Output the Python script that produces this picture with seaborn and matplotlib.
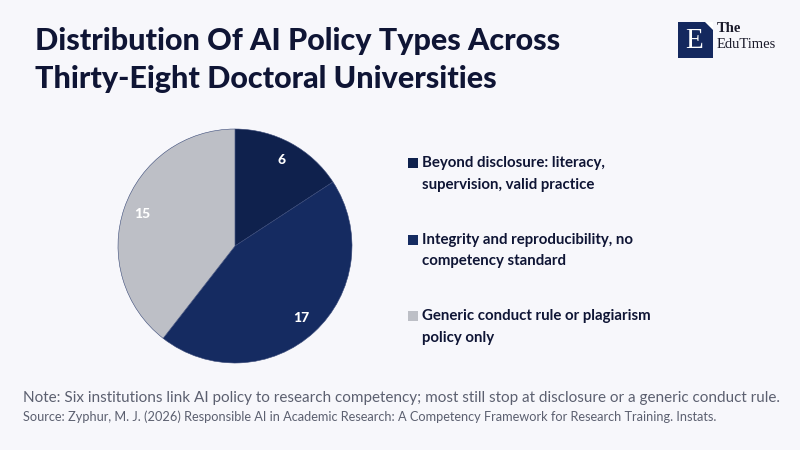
import matplotlib
matplotlib.use('Agg')
import matplotlib.pyplot as plt
import seaborn as sns
from matplotlib.patches import Rectangle, Polygon

# Donnees du graphique
categories = [
    "Beyond disclosure: literacy,\nsupervision, valid practice",
    "Integrity and reproducibility, no\ncompetency standard",
    "Generic conduct rule or plagiarism\npolicy only",
]
counts = [6, 17, 15]
colors = ["#0f214d", "#152b61", "#bdbfc6"]

title = "Distribution Of AI Policy Types Across\nThirty-Eight Doctoral Universities"
note = "Note: Six institutions link AI policy to research competency; most still stop at disclosure or a generic conduct rule."
source = "Source: Zyphur, M. J. (2026) Responsible AI in Academic Research: A Competency Framework for Research Training. Instats."

bg = "#f7f7fb"
navy = "#0f1535"

sns.set_theme(style="white")
plt.rcParams['font.family'] = ['Lato', 'DejaVu Sans']

fig = plt.figure(figsize=(8, 4.5), dpi=100, facecolor=bg)

# Titre
for line, yb in zip(title.split("\n"), [50, 88]):
    fig.text(35 / 800, 1 - yb / 450, line, ha="left", va="baseline",
             fontsize=22, fontweight=900, color=navy)

# Camembert
ax = fig.add_axes([118 / 800, 87 / 450, 234 / 800, 234 / 450])
ax.set_facecolor(bg)
wedges, texts = ax.pie(
    counts, colors=colors, startangle=90, counterclock=False,
    labels=[str(c) for c in counts], labeldistance=0.84,
    wedgeprops=dict(edgecolor="#3a4a78", linewidth=0.4),
    textprops=dict(color="white", fontsize=10, fontweight=900),
)
for t in texts:
    t.set_ha("center")
    t.set_va("center")
ax.set_xlim(-1, 1)
ax.set_ylim(-1, 1)
ax.set_aspect("equal")
ax.axis("off")

# Legende (carre aligne sur la premiere ligne)
for i, (lab, col) in enumerate(zip(categories, colors)):
    y_top = 163 + i * 76.5
    fig.patches.append(Rectangle((408 / 800, 1 - (y_top + 5) / 450), 10 / 800, 10 / 450,
                                 transform=fig.transFigure, facecolor=col,
                                 edgecolor="none"))
    first, second = lab.split("\n")
    fig.text(422 / 800, 1 - y_top / 450, first, ha="left", va="center",
             fontsize=10.8, fontweight="bold", color=navy)
    fig.text(422 / 800, 1 - (y_top + 22) / 450, second, ha="left",
             va="center", fontsize=10.8, fontweight="bold", color=navy)

# Notes de bas de page
fig.text(23 / 800, 1 - 398 / 450, note, ha="left", va="center",
         fontsize=11, color="#5c6070")
fig.text(23 / 800, 1 - 417 / 450, source, ha="left", va="center",
         fontsize=9.15, color="#5c6070")

# Logo
serif = ["Liberation Serif", "DejaVu Serif"]
fig.patches.append(Rectangle((678 / 800, 1 - 58 / 450), 35 / 800, 36 / 450,
                             transform=fig.transFigure, facecolor="#14285e",
                             edgecolor="none"))
fig.patches.append(Polygon([(705 / 800, 1 - 22 / 450), (713 / 800, 1 - 22 / 450),
                            (713 / 800, 1 - 30 / 450)], closed=True,
                           transform=fig.transFigure, facecolor="white",
                           edgecolor="none"))
fig.text(694 / 800, 1 - 41 / 450, "E", ha="center", va="center", fontsize=21,
         color="white", family=serif)
fig.text(717 / 800, 1 - 29 / 450, "The", ha="left", va="center", fontsize=10.5,
         color="#1a1a2a", family=serif, fontweight="bold")
fig.text(717 / 800, 1 - 45 / 450, "EduTimes", ha="left", va="center",
         fontsize=10.5, color="#1a1a2a", family=serif)

fig.savefig("out.png", dpi=100, facecolor=bg)
